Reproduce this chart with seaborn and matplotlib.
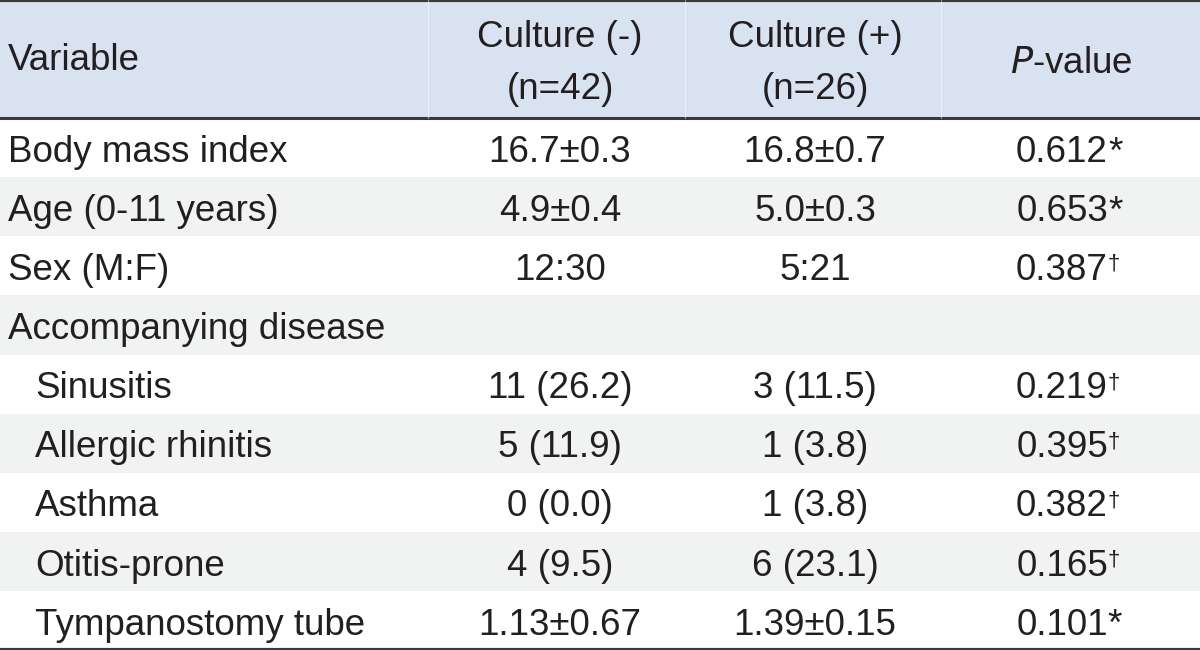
import numpy as np
import matplotlib
matplotlib.use("Agg")
import matplotlib.pyplot as plt
import seaborn as sns
from matplotlib.colors import ListedColormap

# table content
header_cols = ["Variable", "Culture (-)\n(n=42)", "Culture (+)\n(n=26)", "P-value"]
variables = ["Body mass index", "Age (0-11 years)", "Sex (M:F)", "Accompanying disease",
             "Sinusitis", "Allergic rhinitis", "Asthma", "Otitis-prone", "Tympanostomy tube"]
indented = [False, False, False, False, True, True, True, True, True]
culture_neg = ["16.7\u00b10.3", "4.9\u00b10.4", "12:30", "",
               "11 (26.2)", "5 (11.9)", "0 (0.0)", "4 (9.5)", "1.13\u00b10.67"]
culture_pos = ["16.8\u00b10.7", "5.0\u00b10.3", "5:21", "",
               "3 (11.5)", "1 (3.8)", "1 (3.8)", "6 (23.1)", "1.39\u00b10.15"]
p_values = ["0.612", "0.653", "0.387", "", "0.219", "0.395", "0.382", "0.165", "0.101"]
p_marks = ["*", "*", "\u2020", "", "\u2020", "\u2020", "\u2020", "\u2020", "*"]

# row shading: 2 = header, 1 = grey stripe, 0 = white
shade = np.array([2, 2] + [i % 2 for i in range(len(variables))]).reshape(-1, 1)

txt_color = "#231f20"
fs = 26.5

sns.set_style("white")
plt.rcParams["font.family"] = ["Liberation Sans", "DejaVu Sans"]

fig = plt.figure(figsize=(12, 6.5), dpi=100)
ax = fig.add_axes([0, 0, 1, 1])

sns.heatmap(shade, ax=ax, cmap=ListedColormap(["#ffffff", "#f1f2f2", "#d8e2f1"]),
            vmin=-0.5, vmax=2.5, cbar=False, xticklabels=False, yticklabels=False)
ax.set_xlim(0, 1)
ax.set_ylim(len(shade), 0)

# column x positions (fraction of width)
x_var = 8 / 1200
x_ind = 35 / 1200
x_neg = 560 / 1200
x_pos = 815 / 1200
x_p = 1062 / 1200

# header
ax.text(x_var, 1.02, header_cols[0], ha="left", va="center", fontsize=fs, color=txt_color)
for xc, lab in [(x_neg, header_cols[1]), (x_pos, header_cols[2])]:
    l1, l2 = lab.split("\n")
    ax.text(xc, 0.64, l1, ha="center", va="center", fontsize=fs, color=txt_color)
    ax.text(xc, 1.52, l2, ha="center", va="center", fontsize=fs, color=txt_color)
ax.text(1071 / 1200, 1.07, "$\\mathit{P}$-value", ha="center", va="center",
        fontsize=fs, color=txt_color)

# body rows
for i, var in enumerate(variables):
    y = 2 + i + 0.58
    ax.text(x_ind if indented[i] else x_var, y, var, ha="left", va="center",
            fontsize=fs, color=txt_color)
    ax.text(x_neg, y, culture_neg[i], ha="center", va="center", fontsize=fs, color=txt_color)
    ax.text(x_pos, y, culture_pos[i], ha="center", va="center", fontsize=fs, color=txt_color)
    if p_values[i]:
        t = ax.text(x_p, y, p_values[i], ha="center", va="center", fontsize=fs, color=txt_color)
        mark_fs = fs if p_marks[i] == "*" else fs * 0.6
        ax.annotate(p_marks[i], xy=(1.0, 0.98), xycoords=t, ha="left", va="top",
                    fontsize=mark_fs, color=txt_color)

# rules
ax.axhline(0, color="#3a3a3a", lw=3)
ax.axhline(2, color="#3a3a3a", lw=2.2)
ax.axhline(len(shade), color="#3a3a3a", lw=3)
for xs in [428 / 1200, 685 / 1200, 941 / 1200]:
    ax.plot([xs, xs], [0, 2], color="white", lw=0.8, alpha=0.5)

ax.set_axis_off()
fig.savefig("out.png", dpi=100)
